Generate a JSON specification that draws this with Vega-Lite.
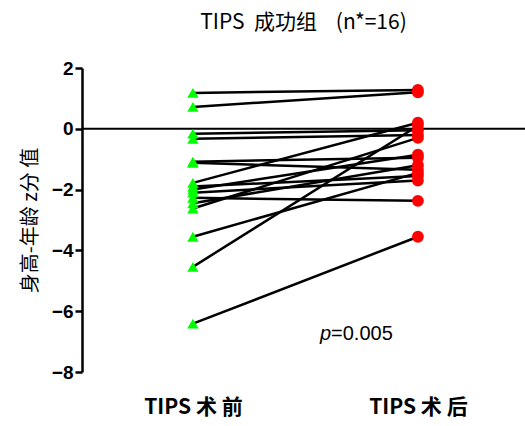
{
  "$schema": "https://vega.github.io/schema/vega-lite/v6.json",
  "autosize": {"type": "none"},
  "padding": {"left": 82, "top": 68, "right": 0, "bottom": 54},
  "width": 443,
  "height": 304,
  "background": "white",
  "title": {"text": "TIPS\u00a0\u00a0成功组\u00a0\u00a0\u00a0\u00a0(n*=16)", "font": "Noto Sans CJK SC", "fontSize": 21, "fontWeight": "normal", "color": "black", "offset": 26, "anchor": "middle"},
  "config": {"view": {"stroke": null}},
  "datasets": {
    "pairs": [
      {"id": 1, "stage": 0, "z": 1.18}, {"id": 1, "stage": 1, "z": 1.28},
      {"id": 2, "stage": 0, "z": 0.72}, {"id": 2, "stage": 1, "z": 1.2},
      {"id": 3, "stage": 0, "z": -0.16}, {"id": 3, "stage": 1, "z": -0.05},
      {"id": 4, "stage": 0, "z": -0.33}, {"id": 4, "stage": 1, "z": -0.2},
      {"id": 5, "stage": 0, "z": -1.08}, {"id": 5, "stage": 1, "z": -0.95},
      {"id": 6, "stage": 0, "z": -1.12}, {"id": 6, "stage": 1, "z": -1.35},
      {"id": 7, "stage": 0, "z": -1.78}, {"id": 7, "stage": 1, "z": 0.2},
      {"id": 8, "stage": 0, "z": -1.9}, {"id": 8, "stage": 1, "z": -1.55},
      {"id": 9, "stage": 0, "z": -2.0}, {"id": 9, "stage": 1, "z": -0.85},
      {"id": 10, "stage": 0, "z": -2.1}, {"id": 10, "stage": 1, "z": -1.7},
      {"id": 11, "stage": 0, "z": -2.27}, {"id": 11, "stage": 1, "z": -2.37},
      {"id": 12, "stage": 0, "z": -2.45}, {"id": 12, "stage": 1, "z": -1.2},
      {"id": 13, "stage": 0, "z": -2.62}, {"id": 13, "stage": 1, "z": -0.3},
      {"id": 14, "stage": 0, "z": -3.55}, {"id": 14, "stage": 1, "z": -1.45},
      {"id": 15, "stage": 0, "z": -4.54}, {"id": 15, "stage": 1, "z": 0.1},
      {"id": 16, "stage": 0, "z": -6.41}, {"id": 16, "stage": 1, "z": -3.55}
    ],
    "zero": [{"z": 0}],
    "ptext": [{"x": 0.614, "z": -6.74}]
  },
  "resolve": {"scale": {"x": "shared", "y": "shared"}},
  "layer": [
    {
      "data": {"name": "zero"},
      "mark": {"type": "rule", "color": "black", "strokeWidth": 2},
      "encoding": {
        "y": {"field": "z", "type": "quantitative", "scale": {"domain": [-8, 2], "nice": false}}
      }
    },
    {
      "data": {"name": "pairs"},
      "mark": {"type": "line", "color": "black", "strokeWidth": 2.5},
      "encoding": {
        "x": {"field": "stage", "type": "quantitative", "scale": {"domain": [-0.493, 1.476], "nice": false, "zero": false},
          "axis": {"values": [0, 1], "labelExpr": "datum.value == 0 ? 'TIPS\u00a0术\u00a0前' : 'TIPS\u00a0术\u00a0后'", "domain": false, "ticks": false, "grid": false, "labelFont": "Noto Sans CJK SC", "labelFontWeight": "bold", "labelFontSize": 21, "labelColor": "black", "labelPadding": 24, "title": null}},
        "y": {"field": "z", "type": "quantitative", "scale": {"domain": [-8, 2], "nice": false},
          "axis": {"values": [-8, -6, -4, -2, 0, 2], "grid": false, "domainColor": "black", "domainWidth": 2.5, "tickColor": "black", "tickWidth": 2.5, "tickSize": 7, "labelFont": "Liberation Sans", "labelFontWeight": "bold", "labelFontSize": 19, "labelColor": "black", "labelPadding": 2, "title": "身高-年龄\u00a0z分\u00a0值", "titleFont": "Noto Sans CJK SC", "titleFontWeight": "normal", "titleFontSize": 20, "titleColor": "black", "titlePadding": 11}},
        "detail": {"field": "id"}
      }
    },
    {
      "data": {"name": "pairs"},
      "transform": [{"filter": "datum.stage == 0"}],
      "mark": {"type": "point", "shape": "triangle-up", "filled": true, "color": "#00ff00", "opacity": 1, "size": 130},
      "encoding": {
        "x": {"field": "stage", "type": "quantitative"},
        "y": {"field": "z", "type": "quantitative"}
      }
    },
    {
      "data": {"name": "pairs"},
      "transform": [{"filter": "datum.stage == 1"}],
      "mark": {"type": "circle", "color": "#ff0000", "opacity": 1, "size": 140},
      "encoding": {
        "x": {"field": "stage", "type": "quantitative"},
        "y": {"field": "z", "type": "quantitative"}
      }
    },
    {
      "data": {"name": "ptext"},
      "mark": {"type": "text", "text": "p", "font": "Liberation Sans", "fontStyle": "italic", "fontSize": 20, "align": "right", "baseline": "middle", "color": "black"},
      "encoding": {
        "x": {"field": "x", "type": "quantitative"},
        "y": {"field": "z", "type": "quantitative"}
      }
    },
    {
      "data": {"name": "ptext"},
      "mark": {"type": "text", "text": "=0.005", "font": "Liberation Sans", "fontSize": 20, "align": "left", "baseline": "middle", "color": "black"},
      "encoding": {
        "x": {"field": "x", "type": "quantitative"},
        "y": {"field": "z", "type": "quantitative"}
      }
    }
  ]
}
